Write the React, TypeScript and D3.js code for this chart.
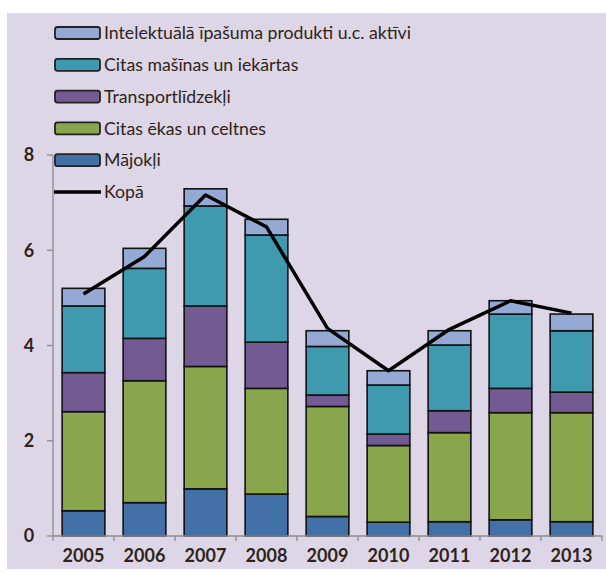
import React from 'react';
import * as d3 from 'd3';

// data
const years = ['2005', '2006', '2007', '2008', '2009', '2010', '2011', '2012', '2013'];
const majokli = [0.53, 0.7, 0.99, 0.88, 0.41, 0.29, 0.3, 0.34, 0.3];
const ekas = [2.08, 2.56, 2.57, 2.22, 2.31, 1.61, 1.87, 2.25, 2.29];
const transport = [0.82, 0.89, 1.27, 0.97, 0.24, 0.24, 0.46, 0.51, 0.43];
const masinas = [1.4, 1.47, 2.1, 2.25, 1.02, 1.03, 1.38, 1.56, 1.29];
const intelekt = [0.37, 0.42, 0.36, 0.33, 0.33, 0.3, 0.3, 0.28, 0.35];
const kopa = [5.08, 5.87, 7.16, 6.49, 4.36, 3.47, 4.34, 4.94, 4.68];
const yTicks = [0, 2, 4, 6, 8];

const seriesNames = ['Mājokļi', 'Citas ēkas un celtnes', 'Transportlīdzekļi', 'Citas mašīnas un iekārtas', 'Intelektuālā īpašuma produkti u.c. aktīvi'];
const seriesValues = [majokli, ekas, transport, masinas, intelekt];
const colors = ['#4371a7', '#8aa64d', '#735a92', '#3f9ab0', '#94aad4'];

const font = 'Lato, "Open Sans", sans-serif';
const textColor = '#2e2419';

export default function App() {
  const x = d3.scaleBand<string>().domain(years).range([53, 602]).paddingInner(0.3).paddingOuter(0.15);
  const y = d3.scaleLinear().domain([0, 8]).range([536, 155]);

  const rows = years.map((yr, i) => {
    const r: any = { year: yr };
    seriesNames.forEach((n, k) => (r[n] = seriesValues[k][i]));
    return r;
  });
  const stacked = d3.stack<any>().keys(seriesNames)(rows);

  const line = d3
    .line<number>()
    .x((_, i) => (x(years[i]) as number) + x.bandwidth() / 2)
    .y(d => y(d));

  const step = x.step();
  const boundaries = years.map(yr => (x(yr) as number) - x.paddingOuter() * step).concat([602]);

  // legend, top to bottom
  const legend = [4, 3, 2, 1, 0].map(k => ({ name: seriesNames[k], color: colors[k] }));

  return (
    <svg width={606} height={574} style={{ position: 'absolute', left: 0, top: 0 }} fontFamily={font}>
      <rect x={0} y={0} width={606} height={574} fill="#ffffff" />
      <rect x={7} y={13} width={599} height={556} fill="#ddd6e7" />

      {/* bars */}
      {stacked.map((s, k) => (
        <g key={s.key} fill={colors[k]} stroke="#111" strokeWidth={1.6}>
          {s.map((d, i) => (
            <rect
              key={i}
              x={x(years[i])}
              y={y(d[1])}
              width={x.bandwidth()}
              height={y(d[0]) - y(d[1])}
            />
          ))}
        </g>
      ))}

      {/* axes */}
      <g stroke="#8c8c8c" strokeWidth={1.3} fill="none">
        <line x1={53} x2={53} y1={y(8)} y2={y(0)} />
        <line x1={53} x2={602} y1={y(0)} y2={y(0)} />
        {yTicks.map(t => (
          <line key={t} x1={47} x2={53} y1={y(t)} y2={y(t)} />
        ))}
        {boundaries.map((b, i) => (
          <line key={i} x1={b} x2={b} y1={y(0)} y2={y(0) + 5} />
        ))}
      </g>
      {yTicks.map(t => (
        <text key={t} x={29} y={y(t)} dy="0.35em" textAnchor="middle" fontSize={18} fontWeight="bold" fill={textColor}>
          {t}
        </text>
      ))}
      {years.map(yr => (
        <text
          key={yr}
          x={(x(yr) as number) + x.bandwidth() / 2}
          y={556}
          dy="0.35em"
          textAnchor="middle"
          fontSize={18}
          fontWeight="bold"
          fill={textColor}
        >
          {yr}
        </text>
      ))}

      {/* total line */}
      <path d={line(kopa) || ''} fill="none" stroke="#000" strokeWidth={3.5} strokeLinejoin="round" />

      {/* legend */}
      {legend.map((l, i) => (
        <g key={l.name} transform={`translate(0,${33 + i * 31.8})`}>
          <rect x={55} y={-6} width={45} height={12} rx={2.5} fill={l.color} stroke="#222" strokeWidth={1.8} />
          <text x={104} y={0} dy="0.35em" fontSize={17.7} fill={textColor}>
            {l.name}
          </text>
        </g>
      ))}
      <g transform={`translate(0,${33 + 5 * 31.8})`}>
        <line x1={54} x2={101} y1={0} y2={0} stroke="#000" strokeWidth={3.5} />
        <text x={104} y={0} dy="0.35em" fontSize={17.7} fill={textColor}>
          Kopā
        </text>
      </g>
    </svg>
  );
}
